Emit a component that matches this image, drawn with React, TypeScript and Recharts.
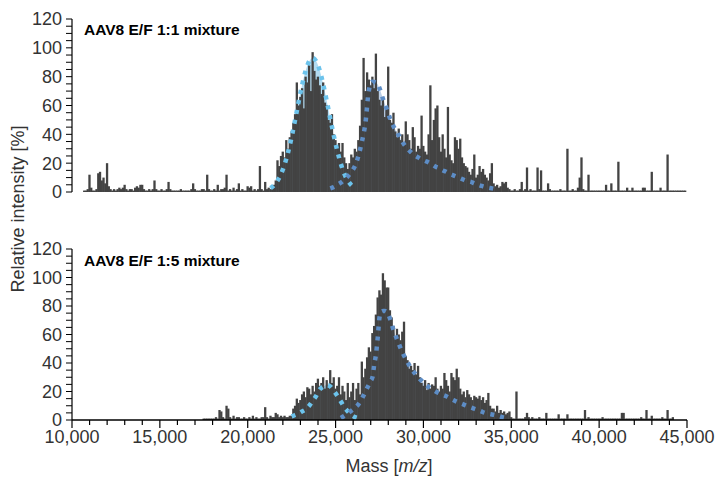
import React from "react";
import { ComposedChart, Bar, Area, Line, XAxis, YAxis } from "recharts";

const FONT = "'Liberation Sans', Arial, Helvetica, sans-serif";
const MASS_START = 10000;
const MASS_STEP = 100;

// relative intensity per 100 Da bin, one row per 1000 Da (10,000 .. 44,900)
const spectrum11 = [
  [0, 0, 0, 0, 0, 0, 0, 1, 1, 2],
  [12, 3, 1, 1, 2, 13, 14, 8, 10, 6],
  [20, 4, 2, 1, 2, 1, 2, 3, 2, 3],
  [5, 2, 1, 2, 2, 1, 3, 4, 3, 5],
  [5, 2, 1, 1, 2, 1, 2, 8, 2, 1],
  [1, 2, 1, 1, 2, 7, 2, 1, 1, 1],
  [1, 1, 2, 1, 1, 1, 1, 1, 2, 6],
  [2, 1, 1, 1, 2, 2, 1, 12, 2, 1],
  [1, 2, 1, 5, 1, 2, 2, 3, 12, 1],
  [2, 1, 3, 1, 2, 6, 1, 2, 1, 1],
  [4, 3, 4, 1, 2, 1, 2, 18, 2, 1],
  [7, 2, 3, 2, 3, 5, 8, 22, 18, 25],
  [28, 24, 36, 30, 38, 42, 48, 54, 76, 60],
  [66, 72, 58, 80, 76, 88, 70, 97, 84, 78],
  [80, 74, 68, 76, 62, 60, 50, 48, 54, 40],
  [36, 32, 34, 28, 34, 24, 20, 16, 20, 26],
  [24, 30, 28, 36, 46, 64, 93, 70, 83, 78],
  [74, 80, 72, 96, 70, 64, 60, 66, 52, 58],
  [87, 50, 48, 55, 42, 38, 44, 36, 40, 34],
  [49, 40, 36, 30, 45, 38, 28, 32, 30, 53],
  [32, 28, 26, 40, 74, 36, 50, 58, 60, 38],
  [28, 40, 30, 24, 59, 26, 22, 20, 38, 36],
  [30, 37, 24, 20, 18, 17, 14, 12, 16, 26],
  [10, 12, 18, 14, 16, 12, 10, 8, 13, 20],
  [6, 4, 5, 3, 4, 7, 6, 7, 3, 2],
  [1, 1, 2, 1, 1, 2, 7, 1, 2, 17],
  [1, 2, 1, 1, 1, 17, 2, 15, 1, 1],
  [1, 6, 2, 1, 1, 1, 1, 1, 2, 1],
  [1, 1, 30, 1, 1, 2, 1, 1, 3, 10],
  [24, 2, 1, 1, 12, 1, 1, 1, 1, 1],
  [1, 1, 1, 1, 5, 1, 1, 6, 1, 1],
  [1, 21, 1, 1, 1, 1, 3, 1, 1, 3],
  [1, 1, 1, 1, 1, 3, 3, 1, 1, 1],
  [14, 1, 1, 1, 1, 3, 1, 1, 1, 26],
  [1, 1, 1, 1, 1, 1, 1, 1, 1, 1],
];

const spectrum15 = [
  [0, 0, 0, 0, 0, 0, 0, 0, 0, 0],
  [0, 0, 0, 0, 0, 0, 0, 0, 0, 0],
  [0, 0, 0, 0, 0, 0, 0, 0, 0, 0],
  [0, 0, 0, 0, 0, 0, 0, 0, 0, 0],
  [0, 0, 0, 0, 0, 0, 0, 0, 0, 0],
  [0, 0, 0, 0, 0, 0, 0, 0, 0, 0],
  [0, 0, 0, 0, 0, 0, 0, 0, 0, 0],
  [0, 0, 0, 0, 0, 1, 1, 1, 1, 1],
  [1, 1, 2, 1, 7, 6, 2, 1, 10, 8],
  [2, 1, 3, 1, 2, 2, 1, 1, 2, 1],
  [1, 2, 1, 3, 1, 2, 1, 1, 2, 2],
  [9, 2, 1, 3, 2, 2, 5, 4, 2, 3],
  [2, 3, 2, 2, 3, 3, 8, 10, 15, 12],
  [14, 18, 20, 16, 23, 22, 18, 24, 20, 26],
  [29, 24, 26, 30, 22, 28, 24, 35, 26, 30],
  [22, 24, 30, 18, 24, 20, 14, 26, 16, 20],
  [26, 14, 22, 26, 18, 41, 30, 36, 44, 51],
  [48, 61, 66, 74, 86, 91, 88, 103, 98, 93],
  [93, 77, 72, 66, 58, 64, 60, 56, 62, 69],
  [45, 42, 36, 38, 35, 40, 32, 38, 30, 26],
  [24, 28, 21, 26, 22, 25, 24, 30, 22, 20],
  [24, 22, 33, 28, 24, 20, 33, 30, 28, 36],
  [30, 22, 18, 20, 16, 21, 18, 16, 14, 17],
  [16, 15, 17, 14, 16, 12, 14, 19, 10, 8],
  [8, 6, 10, 5, 7, 5, 6, 4, 5, 6],
  [2, 1, 1, 20, 1, 1, 1, 1, 2, 5],
  [2, 1, 2, 1, 1, 1, 2, 1, 1, 1],
  [5, 1, 1, 1, 1, 1, 1, 4, 1, 1],
  [1, 1, 4, 1, 1, 1, 1, 1, 1, 1],
  [1, 1, 7, 1, 2, 1, 1, 1, 1, 1],
  [1, 1, 2, 1, 1, 1, 1, 1, 1, 1],
  [1, 1, 1, 5, 5, 1, 1, 1, 1, 1],
  [1, 1, 1, 1, 2, 1, 1, 7, 1, 1],
  [3, 1, 1, 1, 1, 1, 2, 1, 1, 7],
  [1, 1, 2, 0, 0, 0, 0, 0, 0, 0],
];

// fitted envelopes [mass, intensity]
const fitLight11: [number, number][] = [
  [21300, 2.7], [21500, 4.7], [21700, 7.9], [21900, 12.6], [22100, 19.1],
  [22300, 27.7], [22500, 38.2], [22700, 50.2], [22900, 62.7], [23100, 74.5],
  [23300, 84.3], [23500, 90.7], [23700, 93], [23900, 90.7], [24100, 84.3],
  [24300, 74.5], [24500, 63], [24700, 51], [24900, 39], [25100, 28.5],
  [25300, 19.5], [25500, 12.6], [25700, 7.9], [25900, 4.7], [26100, 2.7],
];

const fitDark11: [number, number][] = [
  [24700, 2.5], [24900, 3.5], [25100, 5], [25300, 6.5], [25500, 8.5],
  [25700, 11], [25900, 14], [26100, 18], [26300, 25], [26500, 35],
  [26700, 48], [26900, 71], [27100, 76.5], [27300, 76], [27500, 72],
  [27700, 64.5], [27900, 58], [28100, 51], [28300, 45.5], [28500, 41.5],
  [28700, 37], [28900, 33], [29100, 30], [29300, 27.5], [29500, 25.5],
  [29700, 24], [29900, 22.5], [30100, 21.5], [30300, 20.5], [30500, 19],
  [30700, 17.5], [30900, 16.5], [31100, 15], [31300, 14], [31500, 12.5],
  [31700, 11.5], [31900, 10.5], [32100, 9.5], [32300, 8.5], [32500, 7.5],
  [32700, 7], [32900, 6], [33100, 5], [33300, 4.2], [33500, 3.5],
  [33700, 3], [33900, 2.5], [34100, 2], [34300, 1.5],
];

const fitLight15: [number, number][] = [
  [22500, 2.5], [22700, 3.5], [22900, 4.5], [23100, 6], [23300, 7.5],
  [23500, 10], [23700, 13.5], [23900, 17], [24100, 21.5], [24300, 23.5],
  [24500, 24.5], [24700, 23.5], [24900, 20.5], [25100, 17], [25300, 13],
  [25500, 9], [25700, 6], [25900, 3.5], [26100, 2], [26300, 1.2],
];

const fitDark15: [number, number][] = [
  [25300, 1.5], [25500, 3], [25700, 4.8], [25900, 6.5], [26100, 8.5],
  [26300, 11], [26500, 15], [26700, 20], [26900, 25], [27000, 27.5],
  [27100, 30], [27200, 39], [27300, 46], [27400, 58], [27500, 72],
  [27600, 76], [27700, 76.5], [27800, 76.5], [27900, 76], [28000, 74],
  [28100, 71], [28300, 63], [28500, 56.5], [28700, 50.5], [28900, 45],
  [29100, 40.5], [29300, 36], [29500, 33], [29700, 30], [29900, 27.5],
  [30100, 25], [30300, 23.2], [30500, 21.5], [30700, 20], [30900, 18.8],
  [31100, 17.7], [31300, 16.7], [31500, 15.3], [31700, 14], [31900, 12.8],
  [32100, 11.8], [32300, 10.8], [32500, 9.8], [32700, 8.8], [32900, 7.9],
  [33100, 7], [33300, 6], [33500, 5], [33700, 4.4], [33900, 3.9],
  [34100, 3.4], [34300, 2.7], [34500, 2], [34700, 1.5],
];

const yTicks = [0, 5, 10, 15, 20, 25, 30, 35, 40, 45, 50, 55, 60, 65, 70, 75, 80, 85, 90, 95, 100, 105, 110, 115, 120];
const xTicks = [
  10000, 11000, 12000, 13000, 14000, 15000, 16000, 17000, 18000, 19000,
  20000, 21000, 22000, 23000, 24000, 25000, 26000, 27000, 28000, 29000,
  30000, 31000, 32000, 33000, 34000, 35000, 36000, 37000, 38000, 39000,
  40000, 41000, 42000, 43000, 44000, 45000,
];

const BAR = "#434343";
const LIGHT = "#6cc3ec";
const DARK = "#5d8dc6";
const LIGHT_FILL = "#b3dbf1";
const DARK_FILL = "#bccfe6";

function buildRows(spec: number[][], light: [number, number][], dark: [number, number][]) {
  const a = new Map(light);
  const b = new Map(dark);
  const rows: any[] = [];
  spec.flat().forEach((v, i) => {
    const m = MASS_START + i * MASS_STEP;
    rows.push({ m, s: v, a: a.get(m), b: b.get(m) });
  });
  rows.push({ m: 45000, s: 0 });
  return rows;
}

const rows11 = buildRows(spectrum11, fitLight11, fitDark11);
const rows15 = buildRows(spectrum15, fitLight15, fitDark15);

// spectrum line: centred on the slot recharts gives, wider than the slot so bins touch
const SpecBar = (props: any) => {
  const { x, y, width, height } = props;
  if (!height || height <= 0) return <g />;
  const w = 2.3;
  const cx = x + (width || 0) / 2;
  return <rect x={cx - w / 2} y={y} width={w} height={height} fill={BAR} />;
};

const MassTick = (props: any) => {
  const { x, y, payload } = props;
  const v = payload.value as number;
  const major = v % 5000 === 0;
  const y0 = y - 7;
  return (
    <g>
      <line x1={x} x2={x} y1={y0} y2={y0 + (major ? 8 : 5)} stroke="#000" strokeWidth={1.2} />
      {major && (
        <text x={x} y={y0 + 23} textAnchor="middle" fontSize={18} fill="#333" fontFamily={FONT}>
          {v.toLocaleString("en-US")}
        </text>
      )}
    </g>
  );
};

function Panel({ rows, bottom }: { rows: any[]; bottom: boolean }) {
  return (
    <ComposedChart
      width={717}
      height={bottom ? 248 : 215}
      data={rows}
      margin={{ top: 19, right: 30, bottom: bottom ? 20 : 23, left: 12 }}
    >
      <XAxis
        dataKey="m"
        type="number"
        domain={[10000, 45000]}
        ticks={xTicks}
        interval={0}
        height={bottom ? 38 : 0}
        axisLine={{ stroke: "#000", strokeWidth: 1.5 }}
        tickLine={false}
        tickSize={7}
        tickMargin={0}
        tick={bottom ? <MassTick /> : false}
      />
      <YAxis
        type="number"
        domain={[0, 120]}
        ticks={yTicks}
        interval={0}
        width={60}
        axisLine={{ stroke: "#000", strokeWidth: 1.2 }}
        tickLine={{ stroke: "#000" }}
        tickSize={6}
        tickMargin={4}
        tick={{ fontSize: 18, fill: "#333", fontFamily: FONT }}
        tickFormatter={(v: number) => (v % 20 === 0 ? String(v) : "")}
      />
      <Area dataKey="a" type="monotone" stroke="none" fill={LIGHT_FILL} fillOpacity={1} connectNulls dot={false} activeDot={false} isAnimationActive={false} />
      <Area dataKey="b" type="monotone" stroke="none" fill={DARK_FILL} fillOpacity={1} connectNulls dot={false} activeDot={false} isAnimationActive={false} />
      <Bar dataKey="s" fill={BAR} barSize={2} shape={(p: any) => <SpecBar {...p} />} isAnimationActive={false} />
      <Line dataKey="a" type="monotone" stroke={LIGHT} strokeWidth={4.5} strokeDasharray="4 6" connectNulls dot={false} activeDot={false} isAnimationActive={false} />
      <Line dataKey="b" type="monotone" stroke={DARK} strokeWidth={4.5} strokeDasharray="4 6" connectNulls dot={false} activeDot={false} isAnimationActive={false} />
    </ComposedChart>
  );
}

export default function App() {
  return (
    <div style={{ position: "absolute", left: 0, top: 0, width: 717, height: 478, background: "#fff", fontFamily: FONT }}>
      <div style={{ position: "absolute", left: 0, top: 0 }}>
        <Panel rows={rows11} bottom={false} />
      </div>
      <div style={{ position: "absolute", left: 0, top: 230 }}>
        <Panel rows={rows15} bottom={true} />
      </div>
      <svg width={717} height={478} style={{ position: "absolute", left: 0, top: 0, pointerEvents: "none" }}>
        <text x={84} y={34.5} fontSize={15.5} fontWeight="bold" fill="#000" fontFamily={FONT}>
          AAV8 E/F 1:1 mixture
        </text>
        <text x={84} y={266} fontSize={15.5} fontWeight="bold" fill="#000" fontFamily={FONT}>
          AAV8 E/F 1:5 mixture
        </text>
        <text
          x={18}
          y={209}
          transform="rotate(-90 18 209)"
          textAnchor="middle"
          dominantBaseline="central"
          fontSize={18}
          fill="#333"
          fontFamily={FONT}
        >
          Relative intensity [%]
        </text>
        <text x={389} y={472} textAnchor="middle" fontSize={18} fill="#333" fontFamily={FONT}>
          Mass [<tspan fontStyle="italic">m/z</tspan>]
        </text>
      </svg>
    </div>
  );
}
